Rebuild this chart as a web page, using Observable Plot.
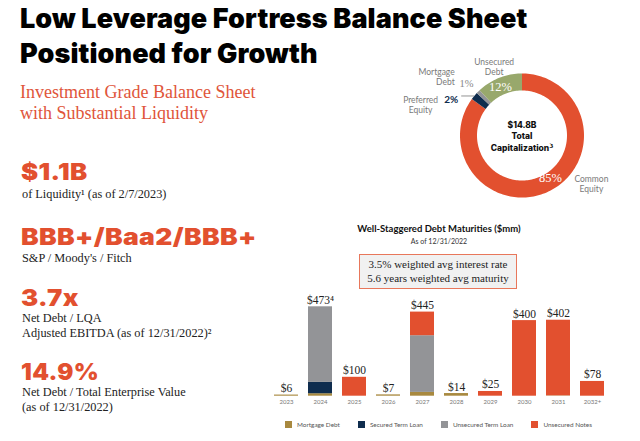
<!DOCTYPE html>
<html><head><meta charset="utf-8">
<script src="https://cdn.jsdelivr.net/npm/d3@7"></script>
<script src="https://cdn.jsdelivr.net/npm/@observablehq/plot@0.6"></script>
<style>
html,body{margin:0;padding:0;background:#fff;}
body{width:640px;height:441px;position:relative;overflow:hidden;font-family:"Liberation Serif",serif;}
.abs{position:absolute;white-space:nowrap;}
.title{left:20px;top:1px;font-family:Inter,sans-serif;font-weight:900;font-size:27px;line-height:35px;letter-spacing:0.1px;color:#000;}
.sub{left:20px;top:82px;font-size:18px;line-height:21.3px;color:#E0553A;}
.big{left:21px;font-family:Inter,sans-serif;font-weight:900;font-size:23px;line-height:18px;color:#E2502F;transform-origin:0 50%;letter-spacing:0.3px;}
.desc{left:22px;font-size:12.3px;line-height:15px;color:#222;}
.btitle{left:300px;width:278px;text-align:center;top:223px;font-family:Lato,sans-serif;font-weight:700;font-size:9.5px;color:#111;}
.bsub{left:300px;width:278px;text-align:center;top:237px;font-family:Lato,sans-serif;font-size:7px;color:#333;}
.box{left:359px;top:254px;width:156px;height:31px;border:1.5px solid #E8775B;background:#f1f1f1;text-align:center;font-size:11px;line-height:14px;padding-top:2px;box-sizing:content-box;color:#222;}
#bar{position:absolute;left:250px;top:290px;}
#donut{position:absolute;left:380px;top:40px;}
#legend{position:absolute;left:285px;top:421px;}
.lg-swatch{margin-right:18px !important;font-family:Lato,sans-serif !important;font-size:6.4px !important;color:#555 !important;}
.lg-swatch svg{margin-right:5px !important;}
.lg-swatches{font-family:Lato,sans-serif !important;font-size:6.4px !important;min-height:0 !important;margin:0 !important;}
</style>
</head><body>
<div id="donut"></div>
<div id="bar"></div>
<div id="legend"></div>
<div class="abs title">Low Leverage Fortress Balance Sheet<br>Positioned for Growth</div>
<div class="abs sub">Investment Grade Balance Sheet<br>with Substantial Liquidity</div>
<div class="abs big" style="top:162.6px;transform:scaleX(1.12)">$1.1B</div>
<div class="abs desc" style="top:186.5px">of Liquidity¹ (as of 2/7/2023)</div>
<div class="abs big" style="top:228.3px;transform:scaleX(1.15)">BBB+/Baa2/BBB+</div>
<div class="abs desc" style="top:251px">S&amp;P / Moody's / Fitch</div>
<div class="abs big" style="top:289.3px;transform:scaleX(1.12)">3.7x</div>
<div class="abs desc" style="top:311px">Net Debt / LQA<br>Adjusted EBITDA (as of 12/31/2022)²</div>
<div class="abs big" style="top:362.6px;transform:scaleX(1.04)">14.9%</div>
<div class="abs desc" style="top:385px">Net Debt / Total Enterprise Value<br>(as of 12/31/2022)</div>
<div class="abs btitle">Well-Staggered Debt Maturities ($mm)</div>
<div class="abs bsub">As of 12/31/2022</div>
<div class="abs box">3.5% weighted avg interest rate<br>5.6 years weighted avg maturity</div>
<script>
// ---------- data ----------
const years = ["2023","2024","2025","2026","2027","2028","2029","2030","2031","2032+"];
const debtTypes = ["Mortgage Debt","Secured Term Loan","Unsecured Term Loan","Unsecured Notes"];
const mortgageDebt      = [6, 13, 0, 7, 20, 14, 0, 0, 2, 0];
const securedTermLoan   = [0, 60, 0, 0, 0, 0, 0, 0, 0, 0];
const unsecuredTermLoan = [0, 400, 0, 0, 300, 0, 0, 0, 0, 0];
const unsecuredNotes    = [0, 0, 100, 0, 125, 0, 25, 400, 400, 78];
const totalFootnotes    = ["", "⁴", "", "", "", "", "", "", "", ""];

const capSlices = ["Common Equity","Preferred Equity","Mortgage Debt","Unsecured Debt"];
const capShares = [85, 2, 1, 12];
const capTotal = "$14.8B";

// ---------- styles ----------
const orange = "#E2502F", navy = "#0F2D4E", gray = "#939497", gold = "#A8893F", green = "#98A86C";
const debtColors = [gold, navy, gray, orange];
const capColors = [orange, navy, gray, green];

// ---------- bar chart ----------
const series = [mortgageDebt, securedTermLoan, unsecuredTermLoan, unsecuredNotes];
const rows = [];
years.forEach((yr, i) => debtTypes.forEach((t, j) => rows.push({year: yr, type: t, value: series[j][i]})));
const totals = years.map((yr, i) => {
  const total = d3.sum(series, s => s[i]);
  return {year: yr, total, label: "$" + total + totalFootnotes[i]};
});

const bar = Plot.plot({
  width: 380, height: 125,
  marginLeft: 12.2, marginRight: 14.5, marginTop: 11.2, marginBottom: 19.3,
  style: {background: "transparent", overflow: "visible"},
  x: {domain: years, padding: 0.3, axis: null},
  y: {domain: [0, 500], axis: null},
  color: {domain: debtTypes, range: debtColors},
  marks: [
    Plot.barY(rows, {x: "year", y: "value", fill: "type"}),
    Plot.text(totals, {x: "year", y: "total", text: "label", dy: -3, lineAnchor: "bottom",
      fontFamily: "Liberation Serif", fontSize: 11.5, fill: "#222"}),
    Plot.axisX({tickSize: 0, tickPadding: 4, fontSize: 6, fontFamily: "Lato", fill: "#777", label: null})
  ]
});
document.getElementById("bar").appendChild(bar);
const lg = bar.legend("color", {swatchSize: 7, className: "lg"});
document.getElementById("legend").appendChild(lg);

// ---------- donut ----------
const R = 62; // pixel radius of the ring
const inner = 45 / 62;
const slices = [];
let cum = 0;
capSlices.forEach((name, i) => {
  const a0 = cum / 100 * 2 * Math.PI;
  cum += capShares[i];
  const a1 = cum / 100 * 2 * Math.PI;
  const n = Math.max(3, Math.ceil(capShares[i] * 2));
  const pts = [];
  for (let k = 0; k <= n; k++) { const a = a0 + (a1 - a0) * k / n; pts.push({x: Math.sin(a), y: Math.cos(a)}); }
  for (let k = n; k >= 0; k--) { const a = a0 + (a1 - a0) * k / n; pts.push({x: inner * Math.sin(a), y: inner * Math.cos(a)}); }
  slices.push({name, share: capShares[i], pts, mid: (a0 + a1) / 2, color: capColors[i]});
});
// label layout (angle in degrees clockwise from top, radius in ring units)
const nameLayout = {
  "Common Equity":   {a: 124.6, r: 1.36, anchor: "middle"},
  "Preferred Equity":{a: 287,   r: 1.71, anchor: "middle"},
  "Mortgage Debt":   {a: 311.1, r: 1.44, anchor: "end"},
  "Unsecured Debt":  {a: 338,   r: 1.20, anchor: "middle"}
};
const pctLayout = {
  "Common Equity":   {a: 146.5, r: 0.83, fill: "#fff", font: "Liberation Serif", size: 12.5, weight: "normal"},
  "Preferred Equity":{a: 296.9, r: 1.28, fill: navy, font: "Lato", size: 10, weight: "bold"},
  "Mortgage Debt":   {a: 313.2, r: 1.23, fill: "#888", font: "Liberation Serif", size: 10.5, weight: "normal"},
  "Unsecured Debt":  {a: 336,   r: 0.85, fill: "#fff", font: "Liberation Serif", size: 12.5, weight: "normal"}
};
const pol = (a, r) => ({x: r * Math.sin(a * Math.PI / 180), y: r * Math.cos(a * Math.PI / 180)});
const nameLabels = slices.map(s => {
  const L = nameLayout[s.name], p = pol(L.a, L.r);
  return {...p, text: s.name.replace(" ", "\n"), anchor: L.anchor};
});
const pctLabels = slices.map(s => {
  const L = pctLayout[s.name], p = pol(L.a, L.r);
  return {...p, text: s.share + "%", ...L};
});
const pref = slices[1];
const leader = [{x1: Math.sin(pref.mid) - 0.21, y1: Math.cos(pref.mid), x2: Math.sin(pref.mid), y2: Math.cos(pref.mid)}];

const dW = 260, dH = 170, cx = 141.5, cy = 95;
const donut = Plot.plot({
  width: dW, height: dH, margin: 0,
  style: {background: "transparent", overflow: "visible"},
  x: {domain: [-cx / R, (dW - cx) / R], axis: null},
  y: {domain: [-(dH - cy) / R, cy / R], axis: null},
  marks: [
    ...slices.map(s => Plot.line(s.pts, {x: "x", y: "y", fill: s.color, stroke: "none"})),
    Plot.link(leader, {x1: "x1", y1: "y1", x2: "x2", y2: "y2", stroke: "#777", strokeWidth: 0.8}),
    ...nameLabels.map(d => Plot.text([d], {x: "x", y: "y", text: "text", textAnchor: d.anchor, fontFamily: "Lato", fontSize: 8.5, lineHeight: 1.2, fill: "#7a7a7a"})),
    ...pctLabels.map(d => Plot.text([d], {x: "x", y: "y", text: "text", fill: d.fill, fontFamily: d.font, fontSize: d.size, fontWeight: d.weight})),
    Plot.text([{x: 0, y: 0, text: capTotal + "\nTotal\nCapitalization³"}], {x: "x", y: "y", text: "text", fontFamily: "Inter", fontWeight: 800, fontSize: 8.5, lineHeight: 1.35, fill: "#111"})
  ]
});
document.getElementById("donut").appendChild(donut);
</script>
</body></html>
